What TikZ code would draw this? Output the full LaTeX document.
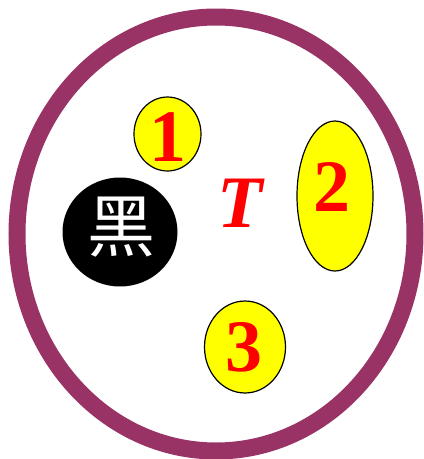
\documentclass[tikz,border=0pt]{standalone}
\usepackage{fontspec}
\setmainfont{Liberation Serif}
\newfontfamily\cjk{Noto Sans CJK SC}
\usetikzlibrary{shapes.geometric}
\definecolor{rim}{HTML}{993366}
\definecolor{fillyellow}{HTML}{FFFF00}
\definecolor{numred}{HTML}{FF0000}
\tikzset{
  yellowblob/.style={ellipse, draw=black, line width=1.2pt, fill=fillyellow, inner sep=0pt},
  numtext/.style={text=numred, font=\fontsize{74}{74}\selectfont\bfseries, inner sep=0pt},
}
\begin{document}
\begin{tikzpicture}[x=1pt,y=-1pt]
\useasboundingbox[fill=white] (0,0) rectangle (424,459);
\node (rimring) [ellipse, draw=rim, line width=17pt, minimum width=398pt, minimum height=434pt, inner sep=0pt] at (216,234) {};
\node (one) [yellowblob, minimum width=67pt, minimum height=74pt] at (167.5,134) {};
\node (two) [yellowblob, minimum width=76pt, minimum height=150pt] at (335,196) {};
\node (three) [yellowblob, minimum width=81pt, minimum height=92pt] at (245,347) {};
\node (black) [ellipse, fill=black, minimum width=115pt, minimum height=109pt, inner sep=0pt] at (120,232) {};
\node (onet) [numtext] at (168,137) {1};
\node (twot) [numtext] at (332,187) {2};
\node (threet) [numtext] at (244,347) {3};
\node (tt) [numtext, font=\fontsize{74}{74}\selectfont\bfseries\itshape] at (240,203) {T};
\node (hei) [text=white, font=\fontsize{68}{68}\cjk, inner sep=0pt] at (121,227) {黑};
\end{tikzpicture}
\end{document}
